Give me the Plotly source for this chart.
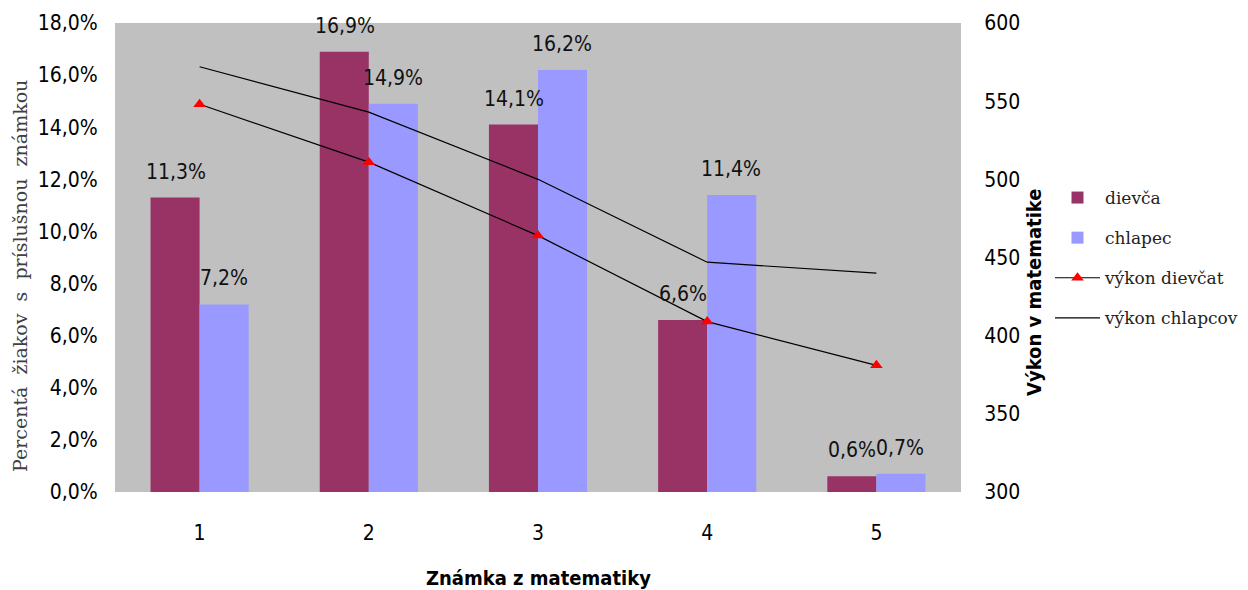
import plotly.graph_objects as go

grades = [1, 2, 3, 4, 5]
grade_labels = ["1", "2", "3", "4", "5"]
girls_pct = [11.3, 16.9, 14.1, 6.6, 0.6]
boys_pct = [7.2, 14.9, 16.2, 11.4, 0.7]
girls_score = [548, 511, 464, 409, 381]
boys_score = [572, 543, 500, 447, 440]
pct_ticks = [0, 2, 4, 6, 8, 10, 12, 14, 16, 18]
score_ticks = [300, 350, 400, 450, 500, 550, 600]

NARROW = "DejaVu Sans Condensed, Liberation Sans Narrow, Arial Narrow, Liberation Sans, sans-serif"
SERIF = "DejaVu Serif, Liberation Serif, serif"

# page body margin offsets the figure by 8px
OFF = 8
W, H = 1248, 590
# plot area in window pixels
PL, PR, PT, PB = 115, 961, 23, 492


def px_x(p):
    return (p - PL) / (PR - PL)


def px_y(p):
    return (PB - p) / (PB - PT)


def fmt(v):
    return f"{v:.1f}".replace(".", ",") + "%"


fig = go.Figure()
fig.add_trace(go.Bar(x=grades, y=girls_pct, name="dievča", marker_color="#993366",
                     marker_line_width=0, legendgroup="a"))
fig.add_trace(go.Bar(x=grades, y=boys_pct, name="chlapec", marker_color="#9999FF",
                     marker_line_width=0, legendgroup="b"))
fig.add_trace(go.Scatter(x=grades, y=girls_score, name="výkon dievčat", yaxis="y2",
                         mode="lines+markers", line=dict(color="black", width=1.2),
                         marker=dict(symbol="triangle-up", size=11, color="#FF0000"),
                         legendgroup="c"))
fig.add_trace(go.Scatter(x=grades, y=boys_score, name="výkon chlapcov", yaxis="y2",
                         mode="lines", line=dict(color="black", width=1.2),
                         legendgroup="d"))

LBL = dict(family=NARROW, size=21, color="#111111")
annotations = []
for g, v in zip(grades, girls_pct):
    annotations.append(dict(x=g, y=v, xref="x", yref="y", text=fmt(v), showarrow=False,
                            xshift=-24, yshift=26, yanchor="middle", font=LBL))
for g, v in zip(grades, boys_pct):
    annotations.append(dict(x=g, y=v, xref="x", yref="y", text=fmt(v), showarrow=False,
                            xshift=24, yshift=26, yanchor="middle", font=LBL))
annotations.append(dict(x=px_x(20), y=px_y(276), xref="paper", yref="paper",
                        xanchor="center", yanchor="middle",
                        text="Percentá\u00a0 žiakov\u00a0 s\u00a0 príslušnou\u00a0 známkou",
                        textangle=-90, showarrow=False,
                        font=dict(family=SERIF, size=19, color="#404040")))
annotations.append(dict(x=px_x(1034), y=px_y(292), xref="paper", yref="paper",
                        xanchor="center", yanchor="middle",
                        text="<b>Výkon v matematike</b>", textangle=-90, showarrow=False,
                        font=dict(family=NARROW, size=20, color="black")))
annotations.append(dict(x=px_x(538), y=px_y(578), xref="paper", yref="paper",
                        xanchor="center", yanchor="middle",
                        text="<b>Známka z matematiky</b>", showarrow=False,
                        font=dict(family=NARROW, size=20, color="black")))

TICKF = dict(family=NARROW, size=21, color="black")
fig.update_layout(
    width=W - OFF, height=H - OFF,
    margin=dict(l=PL - OFF, r=W - PR, t=PT - OFF, b=H - PB, autoexpand=False),
    paper_bgcolor="white", plot_bgcolor="#C0C0C0",
    barmode="group", bargap=0.42, bargroupgap=0,
    annotations=annotations,
    xaxis=dict(range=[0.5, 5.5], tickvals=grades, ticktext=grade_labels,
               showgrid=False, zeroline=False, showline=False, ticks="outside",
               ticklen=22, tickcolor="rgba(0,0,0,0)", automargin=False, tickfont=TICKF),
    yaxis=dict(range=[0, 18], tickvals=pct_ticks, ticktext=[fmt(t) for t in pct_ticks],
               showgrid=False, zeroline=False, showline=False, ticks="outside",
               ticklen=12, tickcolor="rgba(0,0,0,0)", automargin=False, tickfont=TICKF),
    yaxis2=dict(range=[300, 600], tickvals=score_ticks, overlaying="y", side="right",
                showgrid=False, zeroline=False, showline=False, ticks="outside",
                ticklen=18, tickcolor="rgba(0,0,0,0)", automargin=False, tickfont=TICKF),
    legend=dict(x=px_x(1050), y=px_y(180), xanchor="left", yanchor="top",
                font=dict(family=SERIF, size=17, color="#222222"),
                tracegroupgap=15, itemwidth=45, bgcolor="rgba(0,0,0,0)"),
    showlegend=True,
)

fig.write_html("out.html")
